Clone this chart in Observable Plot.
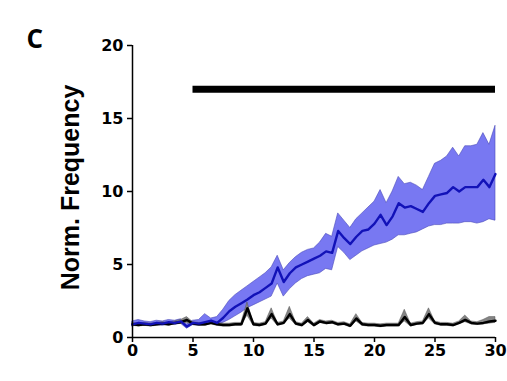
<!DOCTYPE html>
<html>
<head>
<meta charset="utf-8">
<script src="https://cdn.jsdelivr.net/npm/d3@7"></script>
<script src="https://cdn.jsdelivr.net/npm/@observablehq/plot@0.6"></script>
<style>
  html, body { margin: 0; padding: 0; background: white; }
</style>
</head>
<body>
<div id="chart"></div>
<script>
const panelLetter = "C";
const yLabel = "Norm. Frequency";
const xTicks = [0, 5, 10, 15, 20, 25, 30];
const yTicks = [0, 5, 10, 15, 20];
const barStart = 5, barEnd = 30, barLevel = 17;

const time = [0,0.5,1,1.5,2,2.5,3,3.5,4,4.5,5,5.5,6,6.5,7,7.5,8,8.5,9,9.5,10,10.5,11,11.5,12,12.5,13,13.5,14,14.5,15,15.5,16,16.5,17,17.5,18,18.5,19,19.5,20,20.5,21,21.5,22,22.5,23,23.5,24,24.5,25,25.5,26,26.5,27,27.5,28,28.5,29,29.5,30];

const blueMean = [0.9,1.0,0.95,0.9,1.0,0.95,1.05,1.0,1.1,0.75,
  1.0,0.95,1.05,1.15,1.0,1.35,1.8,2.1,2.35,2.6,
  2.9,3.1,3.4,3.7,4.8,3.8,4.4,4.8,5.0,5.2,
  5.4,5.6,5.9,5.8,7.3,6.8,6.4,6.9,7.3,7.4,
  7.8,8.4,7.7,8.3,9.2,8.9,9.0,8.8,8.6,9.2,
  9.7,9.8,9.9,10.3,10.0,10.3,10.3,10.3,10.8,10.3,11.2];
const blueLow = [0.75,0.85,0.8,0.8,0.85,0.8,0.9,0.85,0.95,0.6,
  0.85,0.8,0.85,0.95,0.85,1.0,1.2,1.45,1.7,2.0,
  2.2,2.4,2.6,2.8,3.7,2.8,3.3,3.7,4.0,4.2,
  4.3,4.4,4.7,4.6,6.2,5.8,5.3,5.6,5.9,6.1,
  6.3,6.4,6.5,6.7,7.0,7.0,7.1,7.2,7.4,7.6,
  7.7,7.7,7.8,7.8,7.8,7.9,7.9,7.8,7.9,8.1,8.0];
const blueHigh = [1.1,1.2,1.1,1.05,1.15,1.1,1.2,1.15,1.25,0.9,
  1.15,1.2,1.6,1.3,1.4,1.9,2.5,2.9,3.2,3.5,
  3.8,4.1,4.4,4.8,5.6,4.6,5.1,5.5,5.8,6.0,
  6.1,6.5,7.1,6.9,8.5,8.0,7.5,8.1,8.5,8.9,
  9.3,10.1,9.2,10.0,11.0,10.5,10.6,10.4,10.1,11.0,
  11.9,12.1,12.4,13.0,12.4,13.1,13.1,13.2,14.0,13.2,14.5];

const ctrlMean = [0.9,0.85,0.9,0.85,0.9,0.95,0.9,1.0,1.05,1.2,
  0.95,0.9,0.9,1.0,0.9,0.85,0.85,0.9,0.9,2.0,
  0.9,0.85,0.95,1.6,0.9,1.0,1.6,0.95,0.85,1.2,
  0.85,1.1,1.0,1.05,0.9,0.95,0.8,1.3,0.9,0.85,
  0.85,0.8,0.85,0.85,0.85,1.4,0.85,0.95,1.0,1.6,
  1.0,0.9,0.9,0.85,1.0,1.2,1.0,0.95,1.0,1.1,1.15];
const ctrlLow = [0.8,0.75,0.8,0.75,0.8,0.85,0.8,0.9,0.95,1.0,
  0.85,0.8,0.8,0.9,0.8,0.75,0.75,0.8,0.8,1.5,
  0.8,0.75,0.85,1.3,0.8,0.9,1.3,0.85,0.75,1.05,
  0.75,1.0,0.9,0.95,0.8,0.85,0.7,1.1,0.8,0.75,
  0.75,0.7,0.75,0.75,0.75,1.1,0.75,0.85,0.9,1.3,
  0.9,0.8,0.8,0.75,0.9,1.05,0.9,0.85,0.9,0.95,1.0];
const ctrlHigh = [1.0,0.95,1.0,0.95,1.0,1.05,1.0,1.1,1.2,1.4,
  1.05,1.0,1.0,1.1,1.0,0.95,0.95,1.0,1.0,2.4,
  1.0,0.95,1.05,2.0,1.0,1.1,2.1,1.05,0.95,1.4,
  0.95,1.2,1.1,1.15,1.0,1.05,0.9,1.6,1.0,0.95,
  0.95,0.9,0.95,0.95,0.95,1.9,0.95,1.05,1.1,2.0,
  1.1,1.0,1.0,0.95,1.1,1.5,1.1,1.05,1.2,1.4,1.4];

const rows = time.map((t, i) => ({
  t, bm: blueMean[i], bl: blueLow[i], bh: blueHigh[i],
  cm: ctrlMean[i], cl: ctrlLow[i], ch: ctrlHigh[i]
}));

const chart = Plot.plot({
  width: 507,
  height: 381,
  marginLeft: 132,
  marginRight: 12,
  marginTop: 45,
  marginBottom: 44,
  x: {domain: [0, 30]},
  y: {domain: [0, 20]},
  style: {fontFamily: "DejaVu Sans", fontWeight: "bold", fontSize: "16px", color: "black", background: "white"},
  marks: [
    Plot.areaY(rows, {x: "t", y1: "bl", y2: "bh", fill: "#7878f2", fillOpacity: 1, stroke: "#4a4ab8", strokeWidth: 0.6}),
    Plot.areaY(rows, {x: "t", y1: "cl", y2: "ch", fill: "#858585", fillOpacity: 1, stroke: "#555", strokeWidth: 0.5}),
    Plot.lineY(rows, {x: "t", y: "cm", stroke: "black", strokeWidth: 2.5}),
    Plot.lineY(rows, {x: "t", y: "bm", stroke: "#1212b8", strokeWidth: 2.4}),
    Plot.ruleY([barLevel], {x1: barStart, x2: barEnd, stroke: "black", strokeWidth: 7}),
    Plot.axisX({ticks: xTicks, tickSize: 5, tickPadding: 2, label: null, strokeWidth: 1.5, fontSize: 16, fontWeight: "bold", fontFamily: "DejaVu Sans"}),
    Plot.axisY({ticks: yTicks, tickSize: 5, tickPadding: 4, label: null, strokeWidth: 1.5, fontSize: 16, fontWeight: "bold", fontFamily: "DejaVu Sans"}),
    Plot.ruleX([0], {y1: 0, y2: 20, stroke: "black", strokeWidth: 1.5}),
    Plot.ruleY([0], {x1: 0, x2: 30, stroke: "black", strokeWidth: 1.5}),
    Plot.text([yLabel], {text: d => d, frameAnchor: "left", textAnchor: "middle", lineAnchor: "middle", rotate: -90, dx: -62, dy: -4, fontSize: 25, fontFamily: "Liberation Sans", fontWeight: "bold"}),
    Plot.text([panelLetter], {text: d => d, frameAnchor: "top-left", textAnchor: "start", lineAnchor: "middle", dx: -106, dy: -6, fontSize: 26, fontFamily: "Open Sans", fontWeight: "bold"})
  ]
});
document.getElementById("chart").appendChild(chart);
</script>
</body>
</html>
